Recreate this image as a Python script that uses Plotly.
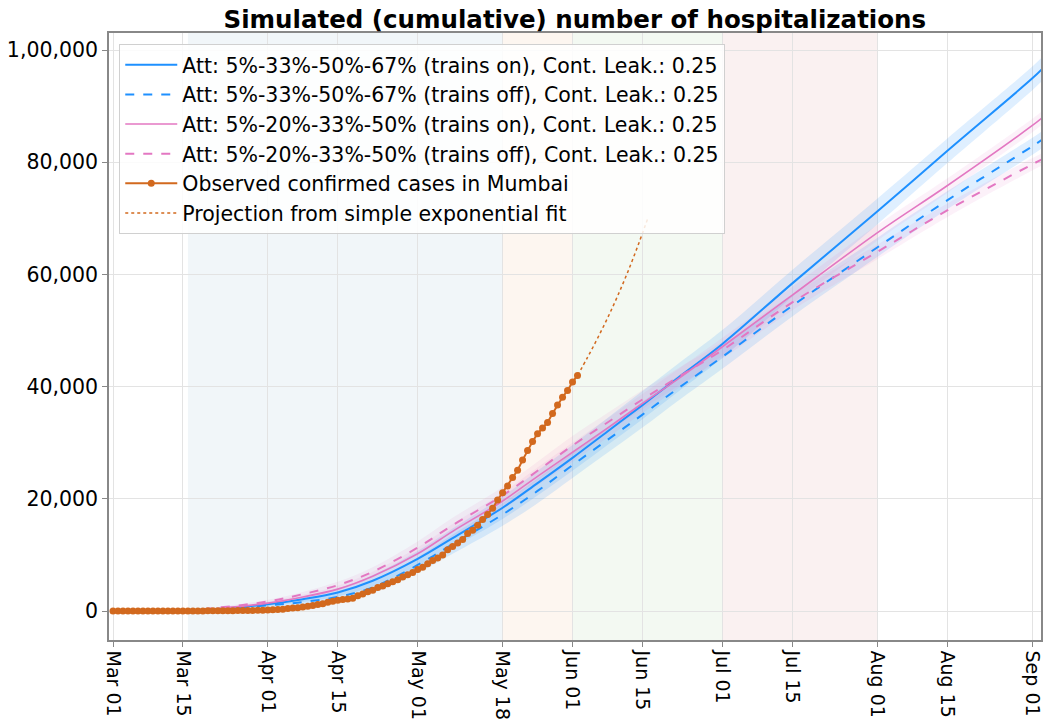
import pandas as pd
import plotly.graph_objects as go

# simulation sample dates (2020)
sim_dates = ["2020-03-01", "2020-03-08", "2020-03-15", "2020-03-22", "2020-04-01",
             "2020-04-08", "2020-04-15", "2020-04-22", "2020-05-01", "2020-05-08",
             "2020-05-18", "2020-05-25", "2020-06-01", "2020-06-08", "2020-06-15",
             "2020-06-22", "2020-07-01", "2020-07-15", "2020-08-01", "2020-08-15",
             "2020-09-01", "2020-09-03"]

# simulated cumulative hospitalizations (thousands)
blue_on = [0, 0, 0.05, 0.35, 1.2, 2.1, 3.3, 5.4, 9.3, 13.0, 18.4, 22.8, 27.3, 32.0,
           36.7, 41.5, 47.6, 58.4, 71.2, 82.0, 94.9, 96.6]
blue_off = [0, 0, 0.04, 0.3, 1.0, 1.6, 2.5, 4.2, 8.2, 11.9, 17.2, 21.4, 26.0, 30.5,
            35.0, 39.6, 45.3, 54.4, 64.8, 73.2, 82.8, 84.0]
pink_on = [0, 0, 0.06, 0.45, 1.4, 2.5, 3.9, 6.2, 10.2, 14.2, 19.6, 24.0, 28.3, 32.6,
           37.0, 41.3, 47.1, 56.3, 67.4, 75.8, 86.5, 87.9]
pink_off = [0, 0, 0.08, 0.6, 1.7, 3.0, 4.6, 7.0, 11.3, 15.3, 20.6, 25.0, 29.5, 33.6,
            37.7, 41.6, 46.5, 55.0, 64.0, 71.4, 79.6, 80.5]

# half-width of the uncertainty bands (thousands)
blue_on_err = [0, 0, 0.02, 0.1, 0.3, 0.5, 0.7, 1.0, 1.4, 1.7, 2.0, 2.2, 2.3, 2.4,
               2.5, 2.5, 2.5, 2.4, 2.3, 2.2, 2.1, 2.1]
blue_off_err = [0, 0, 0.02, 0.1, 0.3, 0.5, 0.7, 1.0, 1.4, 1.7, 2.0, 2.2, 2.3, 2.3,
                2.3, 2.2, 2.1, 1.9, 1.7, 1.6, 1.5, 1.5]
pink_on_err = [0, 0, 0.02, 0.1, 0.3, 0.4, 0.6, 0.8, 1.1, 1.3, 1.5, 1.6, 1.7, 1.7,
               1.7, 1.7, 1.6, 1.5, 1.4, 1.3, 1.2, 1.2]
pink_off_err = [0, 0, 0.02, 0.1, 0.3, 0.4, 0.6, 0.8, 1.1, 1.3, 1.5, 1.6, 1.7, 1.7,
                1.7, 1.6, 1.5, 1.4, 1.3, 1.2, 1.1, 1.1]

# observed confirmed cases in Mumbai, daily from Mar 01
observed = [0, 0, 0, 0, 0, 0, 0, 0, 0, 0,
            2, 4, 5, 8, 10, 11, 14, 16, 19, 22, 29, 38, 41, 51, 56, 67, 74, 90, 103, 113, 151,
            181, 238, 278, 330, 458, 526, 590, 714, 857, 993, 1146, 1298, 1540, 1756, 1896,
            2043, 2120, 2268, 2724, 3032, 3445, 3683, 4205, 4447, 4870, 5194, 5589, 6050,
            6450, 6850,
            7400, 7800, 8400, 9000, 9450, 10000, 10900, 11500, 12100, 12750, 13800, 14400,
            15300, 16300, 17200, 18300, 19800, 21100, 22300, 23800, 25100, 26900, 28600,
            30200, 31600, 32600, 33600, 35200, 36700, 38100, 39300, 40800, 42000]
obs_dates = pd.date_range("2020-03-01", periods=len(observed), freq="D")

# exponential fit projection
proj_dates = ["2020-06-02", "2020-06-04", "2020-06-06", "2020-06-08", "2020-06-10",
              "2020-06-12", "2020-06-14", "2020-06-16"]
projection = [42000, 45200, 48600, 52200, 56100, 60300, 64900, 69800]

tick_dates = ["2020-03-01", "2020-03-15", "2020-04-01", "2020-04-15", "2020-05-01",
              "2020-05-18", "2020-06-01", "2020-06-15", "2020-07-01", "2020-07-15",
              "2020-08-01", "2020-08-15", "2020-09-01"]
tick_labels = ["Mar 01", "Mar 15", "Apr 01", "Apr 15", "May 01", "May 18", "Jun 01",
               "Jun 15", "Jul 01", "Jul 15", "Aug 01", "Aug 15", "Sep 01"]
y_ticks = [0, 20000, 40000, 60000, 80000, 100000]
y_labels = ["0", "20,000", "40,000", "60,000", "80,000", "1,00,000"]

# phase shading: (start, end, colour)
phases = [("2020-03-16", "2020-05-18", "#f1f6f9"),
          ("2020-05-18", "2020-06-01", "#fdf6f0"),
          ("2020-06-01", "2020-07-01", "#f3f9f2"),
          ("2020-07-01", "2020-08-01", "#faf1f1")]

BLUE = "#1e90ff"
PINK = "#e377c2"
ORANGE = "#d2691e"

fig = go.Figure()

series = [
    ("Att: 5%-33%-50%-67% (trains on), Cont. Leak.: 0.25", blue_on, blue_on_err, BLUE,
     "solid", "rgba(30,144,255,0.14)", 2),
    ("Att: 5%-33%-50%-67% (trains off), Cont. Leak.: 0.25", blue_off, blue_off_err, BLUE,
     "dash", "rgba(30,144,255,0.14)", 2),
    ("Att: 5%-20%-33%-50% (trains on), Cont. Leak.: 0.25", pink_on, pink_on_err, PINK,
     "solid", "rgba(227,119,194,0.10)", 1.6),
    ("Att: 5%-20%-33%-50% (trains off), Cont. Leak.: 0.25", pink_off, pink_off_err, PINK,
     "dash", "rgba(227,119,194,0.10)", 2),
]

# bands first
for name, vals, err, col, dash, fillcol, w in series:
    lo = [(v - e) * 1000 for v, e in zip(vals, err)]
    hi = [(v + e) * 1000 for v, e in zip(vals, err)]
    fig.add_trace(go.Scatter(x=sim_dates, y=lo, mode="lines", line=dict(width=0, shape="spline"),
                             showlegend=False, hoverinfo="skip"))
    fig.add_trace(go.Scatter(x=sim_dates, y=hi, mode="lines", line=dict(width=0, shape="spline"),
                             fill="tonexty", fillcolor=fillcol, showlegend=False,
                             hoverinfo="skip"))

for name, vals, err, col, dash, fillcol, w in series:
    fig.add_trace(go.Scatter(x=sim_dates, y=[v * 1000 for v in vals], mode="lines", name=name,
                             line=dict(color=col, dash=dash, width=w, shape="spline")))

fig.add_trace(go.Scatter(x=obs_dates, y=observed, mode="lines+markers",
                         name="Observed confirmed cases in Mumbai",
                         line=dict(color=ORANGE, width=2),
                         marker=dict(color=ORANGE, size=7)))
fig.add_trace(go.Scatter(x=proj_dates, y=projection, mode="lines",
                         name="Projection from simple exponential fit",
                         line=dict(color=ORANGE, width=1.5, dash="dot", shape="spline")))

for start, end, col in phases:
    fig.add_vrect(x0=start, x1=end, fillcolor=col, line_width=0, layer="below")

fig.update_layout(
    width=1047, height=722,
    margin=dict(l=109, r=6, t=33, b=82),
    paper_bgcolor="white", plot_bgcolor="white",
    font=dict(family="DejaVu Sans", size=20, color="black"),
    title=dict(text="<b>Simulated (cumulative) number of hospitalizations</b>",
               x=0.549, xanchor="center", y=0.973, yanchor="middle",
               font=dict(size=24.5)),
    legend=dict(x=0.011, y=0.982, xanchor="left", yanchor="top",
                bgcolor="rgba(255,255,255,0.85)", bordercolor="#d0d0d0", borderwidth=1,
                font=dict(size=20.5), traceorder="normal", itemwidth=52),
    showlegend=True,
)
fig.update_xaxes(range=["2020-02-29 04:48", "2020-09-02 19:00"],
                 tickvals=tick_dates, ticktext=tick_labels, tickangle=90,
                 showgrid=True, gridcolor="#e3e3e3", gridwidth=1,
                 showline=True, mirror=True, linecolor="#888888", linewidth=1.5,
                 ticks="outside", ticklen=5, tickcolor="#888888", automargin=False,
                 tickfont=dict(size=19))
fig.update_yaxes(range=[-5170, 103030], tickvals=y_ticks, ticktext=y_labels,
                 showgrid=True, gridcolor="#e3e3e3", gridwidth=1, zeroline=False,
                 showline=True, mirror=True, linecolor="#888888", linewidth=1.5,
                 ticks="outside", ticklen=5, tickcolor="#888888", automargin=False,
                 tickfont=dict(size=20.5))

fig.write_html("out.html", config={"displayModeBar": False},
               post_script="document.body.style.margin='0';")
